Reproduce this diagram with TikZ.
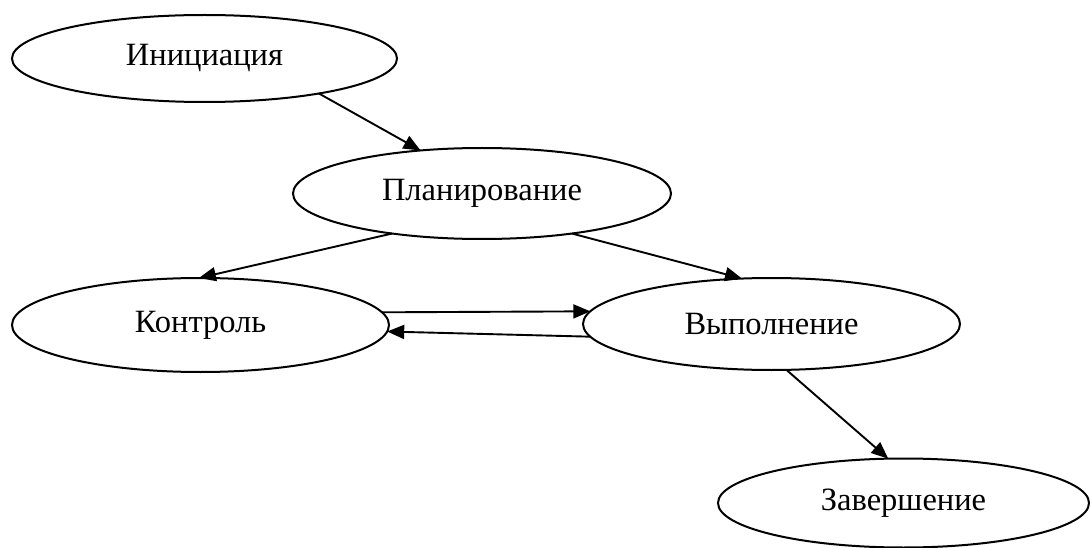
\documentclass[tikz,border=0pt]{standalone}
\usepackage{fontspec}
\setmainfont{Liberation Serif}
\usetikzlibrary{shapes.geometric,arrows.meta}
\tikzset{
  phase/.style={ellipse, draw, line width=2pt, inner sep=0pt, outer sep=0pt,
    font=\fontsize{32.5}{38}\selectfont},
  flow/.style={line width=1.9pt, -{Triangle[length=17pt,width=14pt]}}
}
\begin{document}
\begin{tikzpicture}[x=1pt,y=-1pt]
\useasboundingbox (0,0) rectangle (1090,548);
\node[phase, minimum width=385pt, minimum height=87pt] (ini) at (204.5,58.5) {Инициация};
\node[phase, minimum width=378pt, minimum height=91pt] (plan) at (482,193.5) {Планирование};
\node[phase, minimum width=377pt, minimum height=94pt] (ctrl) at (200.5,325) {Контроль};
\node[phase, minimum width=377pt, minimum height=92pt] (exec) at (771.5,324) {Выполнение};
\node[phase, minimum width=371pt, minimum height=89pt] (fin) at (903.5,503) {Завершение};
\draw[flow] (ini.-17.6) -- (plan.145);
\draw[flow] (plan.204.4) -- (ctrl.92);
\draw[flow] (plan.-24.7) -- (exec.123.2);
\draw[flow] (ctrl.4.1) -- (exec.176.2);
\draw[flow] (exec.184.1) -- (ctrl.-2.5);
\draw[flow] (exec.-72.4) -- (fin.109);
\end{tikzpicture}
\end{document}
